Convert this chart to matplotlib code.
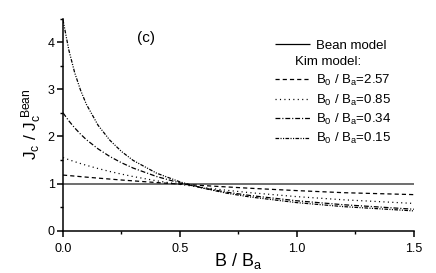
import matplotlib
matplotlib.use("Agg")
import matplotlib.pyplot as plt
from matplotlib.lines import Line2D
from matplotlib.ticker import MultipleLocator

plt.rcParams['font.family'] = ['Liberation Sans', 'DejaVu Sans']
plt.rcParams['mathtext.fontset'] = 'custom'
plt.rcParams['mathtext.rm'] = 'Liberation Sans'
plt.rcParams['mathtext.it'] = 'Liberation Sans'
plt.rcParams['lines.scale_dashes'] = False

# --- data ---
b_bean = [0.0, 1.5]
j_bean = [1.0, 1.0]

b_kim = [0, 0.025, 0.05, 0.075, 0.1, 0.15, 0.2, 0.25, 0.3, 0.4, 0.5, 0.6, 0.7, 0.8, 1.0, 1.2, 1.5]
j_257 = [1.18, 1.169, 1.158, 1.147, 1.136, 1.115, 1.095, 1.075, 1.057, 1.021, 0.988, 0.957, 0.928, 0.900, 0.850, 0.806, 0.765]
j_085 = [1.55, 1.506, 1.464, 1.424, 1.387, 1.318, 1.256, 1.200, 1.148, 1.058, 0.982, 0.915, 0.857, 0.806, 0.722, 0.655, 0.578]
j_034 = [2.50, 2.329, 2.180, 2.048, 1.930, 1.735, 1.574, 1.441, 1.328, 1.149, 1.012, 0.904, 0.817, 0.746, 0.634, 0.550, 0.455]
j_015 = [4.47, 3.83, 3.35, 2.98, 2.68, 2.235, 1.92, 1.68, 1.49, 1.22, 1.035, 0.900, 0.795, 0.715, 0.595, 0.510, 0.420]

labels = [r'$\mathregular{B_0\ /\ B_a}$=2.57', r'$\mathregular{B_0\ /\ B_a}$=0.85',
          r'$\mathregular{B_0\ /\ B_a}$=0.34', r'$\mathregular{B_0\ /\ B_a}$=0.15']

# --- styles ---
styles = [(0, (3.0, 2.2)),                       # dashed
          (0, (0.8, 2.4)),                       # dotted
          (0, (3.5, 1.4, 0.8, 1.4)),             # dash-dot
          (0, (2.6, 1.0, 0.8, 1.0, 0.8, 1.0))]   # dash-dot-dot

fig = plt.figure(figsize=(4.36, 2.73), dpi=100)
ax = fig.add_axes([0.1445, 0.155, 0.805, 0.777])

bean_line, = ax.plot(b_bean, j_bean, color='#555555', lw=1.2, solid_capstyle='butt')
kim_lines = []
for j, ls in zip([j_257, j_085, j_034, j_015], styles):
    ln, = ax.plot(b_kim, j, color='black', lw=0.9, linestyle=ls)
    kim_lines.append(ln)

ax.set_xlim(0, 1.5)
ax.set_ylim(0, 4.5)
ax.xaxis.set_major_locator(MultipleLocator(0.5))
ax.xaxis.set_minor_locator(MultipleLocator(0.25))
ax.yaxis.set_major_locator(MultipleLocator(1))
ax.yaxis.set_minor_locator(MultipleLocator(0.5))
ax.xaxis.set_major_formatter(matplotlib.ticker.FormatStrFormatter('%.1f'))

for s in ['top', 'right']:
    ax.spines[s].set_visible(False)
for s in ['left', 'bottom']:
    ax.spines[s].set_linewidth(1.1)
ax.tick_params(which='major', direction='out', length=4, width=1.1, labelsize=9, pad=2)
ax.tick_params(which='minor', direction='out', length=2.5, width=1.0)
ax.tick_params(axis='x', pad=5)

ax.set_xlabel(r'$\mathregular{B\ /\ B_a}$', fontsize=13, labelpad=-3)
ax.set_ylabel(r'$\mathregular{J_c\ /\ J_c^{\ Bean}}$', fontsize=12.5, labelpad=3)

ax.text(0.355, 4.09, '(c)', fontsize=11, ha='center', va='center')

# legend: "Kim model:" row has no sample line
blank = Line2D([], [], linestyle='none')
handles = [bean_line, blank] + kim_lines
leg_labels = ['Bean model', ' '] + labels
leg = ax.legend(handles, leg_labels, loc='upper left', bbox_to_anchor=(0.604, 0.90),
                frameon=False, fontsize=9.5, handlelength=2.65, handletextpad=0.45,
                labelspacing=0.33, borderpad=0, borderaxespad=0)
leg.legend_handles[0].set_color('black')
leg.legend_handles[0].set_linewidth(0.9)
ax.text(0.661, 0.796, 'Kim model:', transform=ax.transAxes, fontsize=9.5, ha='left', va='center')

fig.savefig('out.png', dpi=100)
